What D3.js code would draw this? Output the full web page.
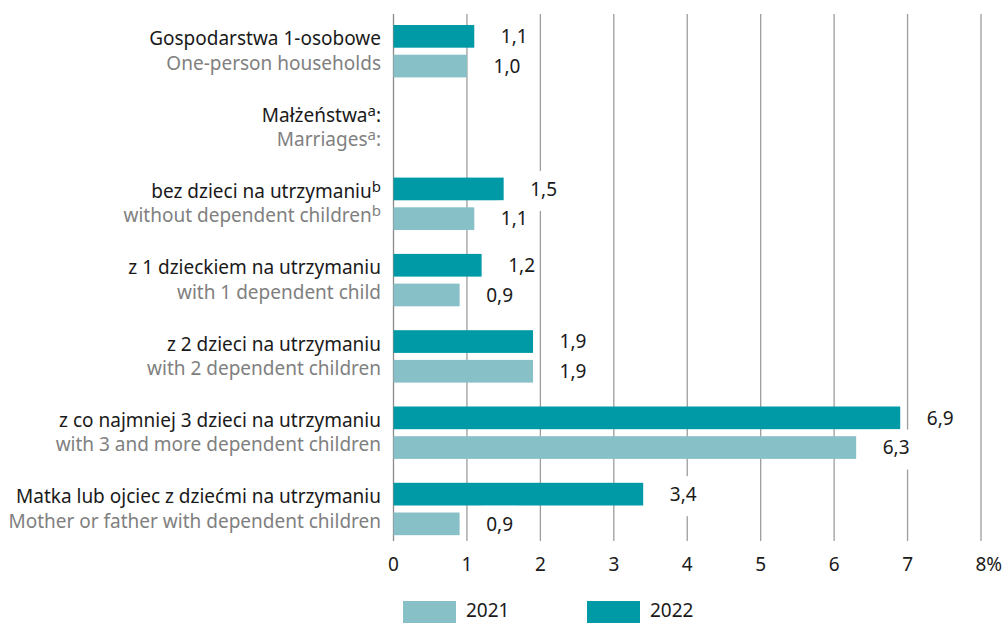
<!DOCTYPE html>
<html>
<head>
<meta charset="utf-8">
<script src="https://cdn.jsdelivr.net/npm/d3@7/dist/d3.min.js"></script>
<style>
  html, body { margin: 0; padding: 0; background: #fff; }
  svg { display: block; font-family: "Noto Sans", "Open Sans", sans-serif; }
</style>
</head>
<body>
<svg id="chart" width="1005" height="623"></svg>
<script>
// ---- data ----
const labelsPL = [
  "Gospodarstwa 1-osobowe",
  "Małżeństwa",
  "bez dzieci na utrzymaniu",
  "z 1 dzieckiem na utrzymaniu",
  "z 2 dzieci na utrzymaniu",
  "z co najmniej 3 dzieci na utrzymaniu",
  "Matka lub ojciec z dziećmi na utrzymaniu"
];
const labelsEN = [
  "One-person households",
  "Marriages",
  "without dependent children",
  "with 1 dependent child",
  "with 2 dependent children",
  "with 3 and more dependent children",
  "Mother or father with dependent children"
];
const labelSup = ["", "a", "b", "", "", "", ""];
const labelSuffix = ["", ":", "", "", "", "", ""];
const years = ["2022", "2021"];
const values2022 = [1.1, null, 1.5, 1.2, 1.9, 6.9, 3.4];
const values2021 = [1.0, null, 1.1, 0.9, 1.9, 6.3, 0.9];
const xTicks = [0, 1, 2, 3, 4, 5, 6, 7, 8];
const legendYears = ["2021", "2022"];

// ---- styles ----
const colors = { "2022": "#009aa7", "2021": "#87c0c6" };
const colorPL = "#1a1a1a";
const colorEN = "#808080";
const gridColor = "#9d9d9d";
const fontSize = 19;

const svg = d3.select("#chart");
const idx = d3.range(labelsPL.length);

const x = d3.scaleLinear().domain([0, 8]).range([393.5, 981]);
const y = d3.scaleBand().domain(idx).range([25, 535.2]).paddingInner(0.3132).paddingOuter(0);
const yInner = d3.scaleBand().domain(years).range([0, y.bandwidth()]).paddingInner(0.2357);

const valuesByYear = { "2022": values2022, "2021": values2021 };
const fmt = v => d3.format(".1f")(v).replace(".", ",");

// gridlines
const gridTop = 14, gridBottom = 541;
svg.append("g").selectAll("line").data(xTicks).join("line")
  .attr("x1", d => x(d)).attr("x2", d => x(d))
  .attr("y1", gridTop).attr("y2", gridBottom)
  .attr("stroke", d => d === 0 ? "#8a8a8a" : gridColor)
  .attr("stroke-width", 1.3);

// tick labels
svg.append("g").selectAll("text").data(xTicks).join("text")
  .attr("x", d => x(d))
  .attr("y", 571)
  .attr("text-anchor", (d, i) => i === xTicks.length - 1 ? "start" : "middle")
  .attr("dx", (d, i) => i === xTicks.length - 1 ? -5.5 : 0)
  .attr("font-size", fontSize)
  .attr("fill", colorPL)
  .text((d, i) => i === xTicks.length - 1 ? d + "%" : d);

// bars
const barData = [];
years.forEach(yr => idx.forEach(i => {
  const v = valuesByYear[yr][i];
  if (v != null) barData.push({ yr, i, v });
}));

svg.append("g").selectAll("rect").data(barData).join("rect")
  .attr("x", x(0))
  .attr("y", d => y(d.i) + yInner(d.yr))
  .attr("width", d => x(d.v) - x(0))
  .attr("height", yInner.bandwidth())
  .attr("fill", d => colors[d.yr]);

// value labels with white background
const vl = svg.append("g").selectAll("g").data(barData).join("g");
vl.each(function (d) {
  const g = d3.select(this);
  const cy = y(d.i) + yInner(d.yr) + yInner.bandwidth() / 2;
  const t = g.append("text")
    .attr("x", x(d.v) + 40)
    .attr("y", cy)
    .attr("dy", "0.36em")
    .attr("text-anchor", "middle")
    .attr("font-size", fontSize)
    .attr("fill", colorPL)
    .text(fmt(d.v));
  const bb = t.node().getBBox();
  g.insert("rect", "text")
    .attr("x", bb.x - 3)
    .attr("y", cy - 18)
    .attr("width", bb.width + 6)
    .attr("height", 40)
    .attr("fill", "#fff");
});

// category labels
const labelX = 381;
function addLabel(sel, texts, color, offset) {
  sel.append("text")
    .attr("x", labelX)
    .attr("y", i => y(i) + yInner("2022") + yInner.bandwidth() / 2 + offset)
    .attr("text-anchor", "end")
    .attr("font-size", fontSize)
    .attr("fill", color)
    .each(function (i) {
      const t = d3.select(this);
      t.append("tspan").text(texts[i]);
      if (labelSup[i]) t.append("tspan").attr("font-size", 15).attr("dy", -6).text(labelSup[i]);
      if (labelSuffix[i]) t.append("tspan").attr("dy", labelSup[i] ? 6 : 0).text(labelSuffix[i]);
    });
}
const lab = svg.append("g").selectAll("g").data(idx).join("g");
addLabel(lab, labelsPL, colorPL, 9);
addLabel(lab, labelsEN, colorEN, 33.5);

// legend
const legendX = d3.scaleOrdinal().domain(legendYears).range([403, 587]);
const leg = svg.append("g").selectAll("g").data(legendYears).join("g")
  .attr("transform", d => `translate(${legendX(d)},601)`);
leg.append("rect").attr("width", 53).attr("height", 22).attr("fill", d => colors[d]);
leg.append("text").attr("x", 63).attr("y", 16)
  .attr("font-size", fontSize).attr("fill", colorPL).text(d => d);
</script>
</body>
</html>
